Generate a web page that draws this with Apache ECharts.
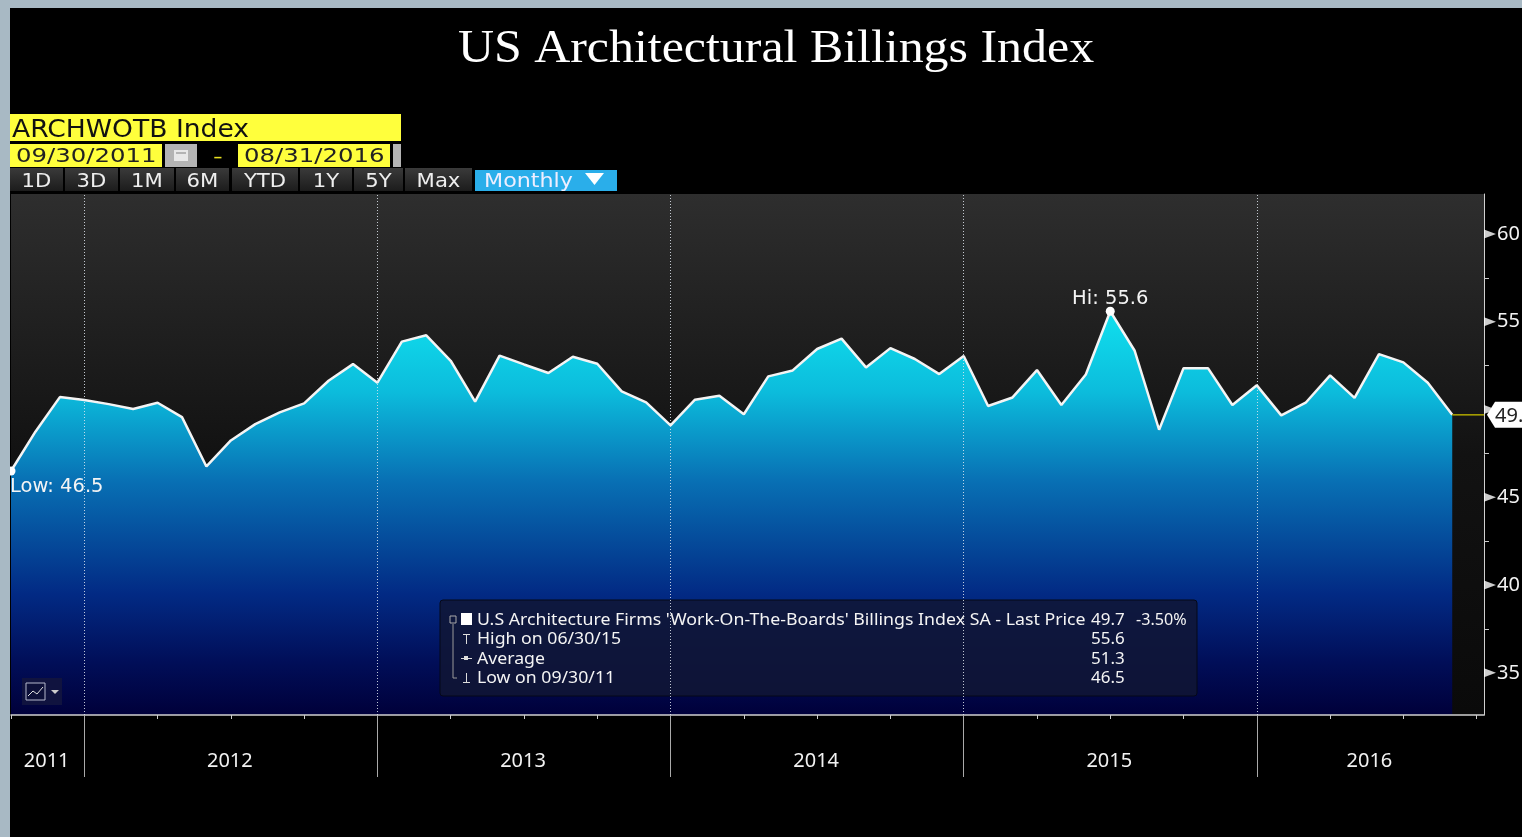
<!DOCTYPE html>
<html><head><meta charset="utf-8">
<style>html,body{margin:0;padding:0;background:#000;overflow:hidden}#c{width:1522px;height:837px}</style>
<script src="https://cdn.jsdelivr.net/npm/echarts@6/dist/echarts.min.js"></script>
</head><body><div id="c"></div>
<script>
// Monthly readings, Sep 2011 .. Aug 2016
const billings = [46.5,48.74,50.71,50.54,50.31,50.03,50.39,49.57,46.76,48.24,49.17,49.84,50.35,51.64,52.59,51.53,
 53.87,54.23,52.78,50.45,53.07,52.57,52.08,53.01,52.61,51.04,50.41,49.10,50.56,50.79,49.73,51.89,52.23,53.45,54.04,52.40,
 53.50,52.88,52.02,53.05,50.2,50.69,52.25,50.26,52.0,55.6,53.35,48.85,52.36,52.36,50.26,51.38,49.67,50.39,51.95,50.67,
 53.16,52.69,51.53,49.7];
const yearLabels = ['2011','2012','2013','2014','2015','2016'];
const yearLabelPos = [1.46,8.96,20.96,32.96,44.96,55.61];
const yearBoundaries = [3,15,27,39,51];
const quarterTicks = [0,6,9,12,18,21,24,30,33,36,42,45,48,54,57,60];
const yMajor = [35,40,45,50,55,60];
const yLabels = [35,40,45,55,60]; // the 50 label sits behind the last-price flag
const yMinor = [37.5,42.5,47.5,52.5,57.5];
const buttons = [['1D',10,63],['3D',65,118],['1M',120,174],['6M',176,229],['YTD',232,298],['1Y',300,352],['5Y',354,403],['Max',405,472]];
const legendHead = "U.S Architecture Firms 'Work-On-The-Boards' Billings Index SA - Last Price";
const legendRows = [['High on 06/30/15','55.6'],['Average','51.3'],['Low on 09/30/11','46.5']];
const lastPrice = '49.7', lastChange = '-3.50%';
const chartTitle = 'US Architectural Billings Index';

const XMAX = 60.3;
const lastIdx = billings.length-1;
const hiIdx = billings.indexOf(Math.max(...billings));
const loIdx = billings.indexOf(Math.min(...billings));
const G = echarts.graphic.LinearGradient;
const sans = '"Noto Sans"', wide = '"DejaVu Sans"';

function txt(text,x,y,size,fill,family,o={}){
  return {type:'text',z:o.z||50,x,y,scaleX:o.sx||1,style:{text,x:0,y:0,fill,font:size+'px '+family,textAlign:o.align||'left',textVerticalAlign:'middle'}};
}
function rect(x,y,w,h,fill,o={}){
  return {type:'rect',z:o.z||40,shape:{x,y,width:w,height:h,r:o.r||0},style:{fill,stroke:o.stroke||null,lineWidth:o.lw||0}};
}
const gfx = [
  rect(0,0,10,837,'#a8b9c4',{z:60}),
  rect(0,0,1522,8,'#a8b9c4',{z:60}),
  txt(chartTitle,776,50,46,'#fff','"Liberation Serif"',{align:'center',sx:1.085}),
  rect(10,114,391,27,'#ffff3c'),
  txt('ARCHWOTB Index',12,131,24,'#111',wide,{sx:1.107}),
  rect(10,144,152,23,'#ffff3c'),
  txt('09/30/2011',16,157,20,'#222',wide,{sx:1.22}),
  rect(165,144,32,23,'#b4b4b4'),
  rect(174,150,14,11,'#e8e8e8'),
  rect(176,152,10,2,'#b4b4b4',{z:41}),
  txt('-',213,157,18,'#e8e020',wide,{sx:1.5}),
  rect(238,144,152,23,'#ffff3c'),
  txt('08/31/2016',244,157,20,'#222',wide,{sx:1.22}),
  rect(393,144,8,23,'#b4b4b4'),
  rect(475,170,142,21,'#2aaeea'),
  txt('Monthly',484,182,20,'#eef',wide,{sx:1.11}),
  {type:'polygon',z:50,shape:{points:[[585,173],[604,173],[594.5,185]]},style:{fill:'#fff'}},
  rect(22,678,40,27,'#10133f'),
  rect(26,683,19,17,'#0c0f38',{z:50,stroke:'#b4b8cc',lw:1}),
  {type:'polyline',z:51,shape:{points:[[28,696],[33,691],[37,694],[43,687]]},style:{stroke:'#ddd',fill:null,lineWidth:1}},
  {type:'polygon',z:51,shape:{points:[[51,690],[59,690],[55,694]]},style:{fill:'#ccc'}},
  rect(440,600,757,96,'rgba(16,22,52,0.86)',{r:3,stroke:'#050818',lw:1}),
  rect(461,613,11,12,'#fff',{z:50}),
  rect(450,616,6,7,null,{z:50,stroke:'#aaa',lw:1}),
  {type:'polyline',z:50,shape:{points:[[453,624],[453,678],[457,678]]},style:{stroke:'#999',fill:null,lineWidth:1}},
  rect(466,634,1,10,'#ddd',{z:50}),rect(463,634,7,1,'#ddd',{z:50}),
  rect(461,658,11,1,'#ddd',{z:50}),rect(464,656,4,4,'#ddd',{z:50}),
  rect(466,673,1,10,'#ddd',{z:50}),rect(463,682,7,1,'#ddd',{z:50}),
  txt(legendHead,477,620,17,'#f4f4f4',sans,{sx:1.044}),
  txt(lastPrice,1091,620,17,'#f4f4f4',sans),
  txt(lastChange,1136,620,17,'#f4f4f4',sans,{sx:0.95})
];
buttons.forEach(b=>{
  gfx.push({type:'rect',z:40,shape:{x:b[1],y:168,width:b[2]-b[1],height:23},style:{fill:new G(0,0,0,1,[{offset:0,color:'#3a3a3a'},{offset:1,color:'#1c1c1c'}])}});
  gfx.push(txt(b[0],(b[1]+b[2])/2,182,20,'#eee',wide,{align:'center',sx:1.06}));
});
legendRows.forEach((r,i)=>{
  const y = 639.5+i*19.5;
  gfx.push(txt(r[0],477,y,17,'#f4f4f4',sans,{sx:1.04}));
  gfx.push(txt(r[1],1091,y,17,'#f4f4f4',sans));
});

const chart = echarts.init(document.getElementById('c'),null,{renderer:'canvas'});
chart.setOption({
  animation:false,
  backgroundColor:'#000',
  grid:{left:11,top:194,width:1473,height:521,show:true,borderWidth:0,outerBoundsMode:'none',
    backgroundColor:new G(0,0,0,1,[{offset:0,color:'#2e2e2e'},{offset:0.5,color:'#121212'},{offset:1,color:'#0a0a0a'}])},
  xAxis:[
    {type:'value',min:0,max:XMAX,position:'bottom',z:6,splitLine:{show:false},
     axisLine:{lineStyle:{color:'#d0d0d0',width:1.5}},
     axisTick:{show:true,length:4,customValues:quarterTicks,lineStyle:{color:'#ccc'}},
     axisLabel:{show:false}},
    {type:'value',min:0,max:XMAX,position:'bottom',z:6,splitLine:{show:false},
     axisLine:{show:false},
     axisTick:{show:true,length:62,customValues:yearBoundaries,lineStyle:{color:'#aaa'}},
     axisLabel:{show:true,customValues:yearLabelPos,margin:36,color:'#f2f2f2',fontFamily:sans,fontSize:20,
       hideOverlap:false,showMinLabel:true,showMaxLabel:true,
       formatter:v=>yearLabels[yearLabelPos.indexOf(v)]||''}}
  ],
  yAxis:{type:'value',position:'right',min:32.6,max:62.28,splitLine:{show:false},
    axisLine:{show:true,onZero:false,lineStyle:{color:'#d0d0d0',width:1}},
    axisTick:{show:true,length:5,customValues:yMinor,lineStyle:{color:'#ccc'}},
    axisLabel:{show:true,customValues:yLabels,margin:13,color:'#f2f2f2',fontFamily:sans,fontSize:20,showMinLabel:true,showMaxLabel:true}},
  graphic:gfx,
  series:[
    {type:'line',data:billings.map((v,i)=>[i,v]),showSymbol:false,symbol:'none',z:3,
     lineStyle:{color:'#f4f4f4',width:2.5},
     areaStyle:{origin:'start',opacity:1,color:new G(0,0,0,1,[
       {offset:0,color:'#10e0ee'},{offset:0.2,color:'#0cbcdc'},{offset:0.42,color:'#0870b4'},
       {offset:0.7,color:'#022a84'},{offset:0.87,color:'#010e58'},{offset:1,color:'#00003a'}])},
     markLine:{silent:true,z:45,symbol:'none',label:{show:false},
       lineStyle:{color:'#dfe6ee',type:[1,2],width:1,opacity:0.85},
       data:yearBoundaries.map(v=>({xAxis:v}))},
     markPoint:{silent:true,symbol:'circle',symbolSize:9,itemStyle:{color:'#fff'},
       data:[
        {coord:[hiIdx,billings[hiIdx]],label:{show:true,position:'top',distance:0,offset:[0,2],formatter:'Hi: '+billings[hiIdx],color:'#f4f4f4',fontFamily:wide,fontSize:19.5}},
        {coord:[loIdx,billings[loIdx]],label:{show:true,position:'bottom',distance:1,align:'left',offset:[-1,0],formatter:'Low: '+billings[loIdx],color:'#f4f4f4',fontFamily:wide,fontSize:19.5}}
       ]}},
    {type:'line',data:[[lastIdx,billings[lastIdx]],[XMAX,billings[lastIdx]]],symbol:'none',silent:true,z:4,clip:false,
     lineStyle:{color:'#b0a800',width:1.5},
     markPoint:{silent:true,symbol:'path://M0 13 L8 0 L40 0 L40 26 L8 26 Z',symbolKeepAspect:false,symbolSize:[40,26],symbolOffset:[23,0],
       itemStyle:{color:'#fff'},z:10,
       data:[{coord:[XMAX,billings[lastIdx]],label:{show:true,position:'inside',align:'left',offset:[-12,1],formatter:String(billings[lastIdx]),color:'#222',fontFamily:sans,fontSize:20}}]}},
    {type:'scatter',data:yMajor.map(v=>[XMAX,v]),clip:false,silent:true,z:3,
     symbol:'path://M0 0 L10 4 L0 8 Z',symbolSize:[12,9],symbolOffset:[6,0],itemStyle:{color:'#fff'}}
  ]
});
</script></body></html>
